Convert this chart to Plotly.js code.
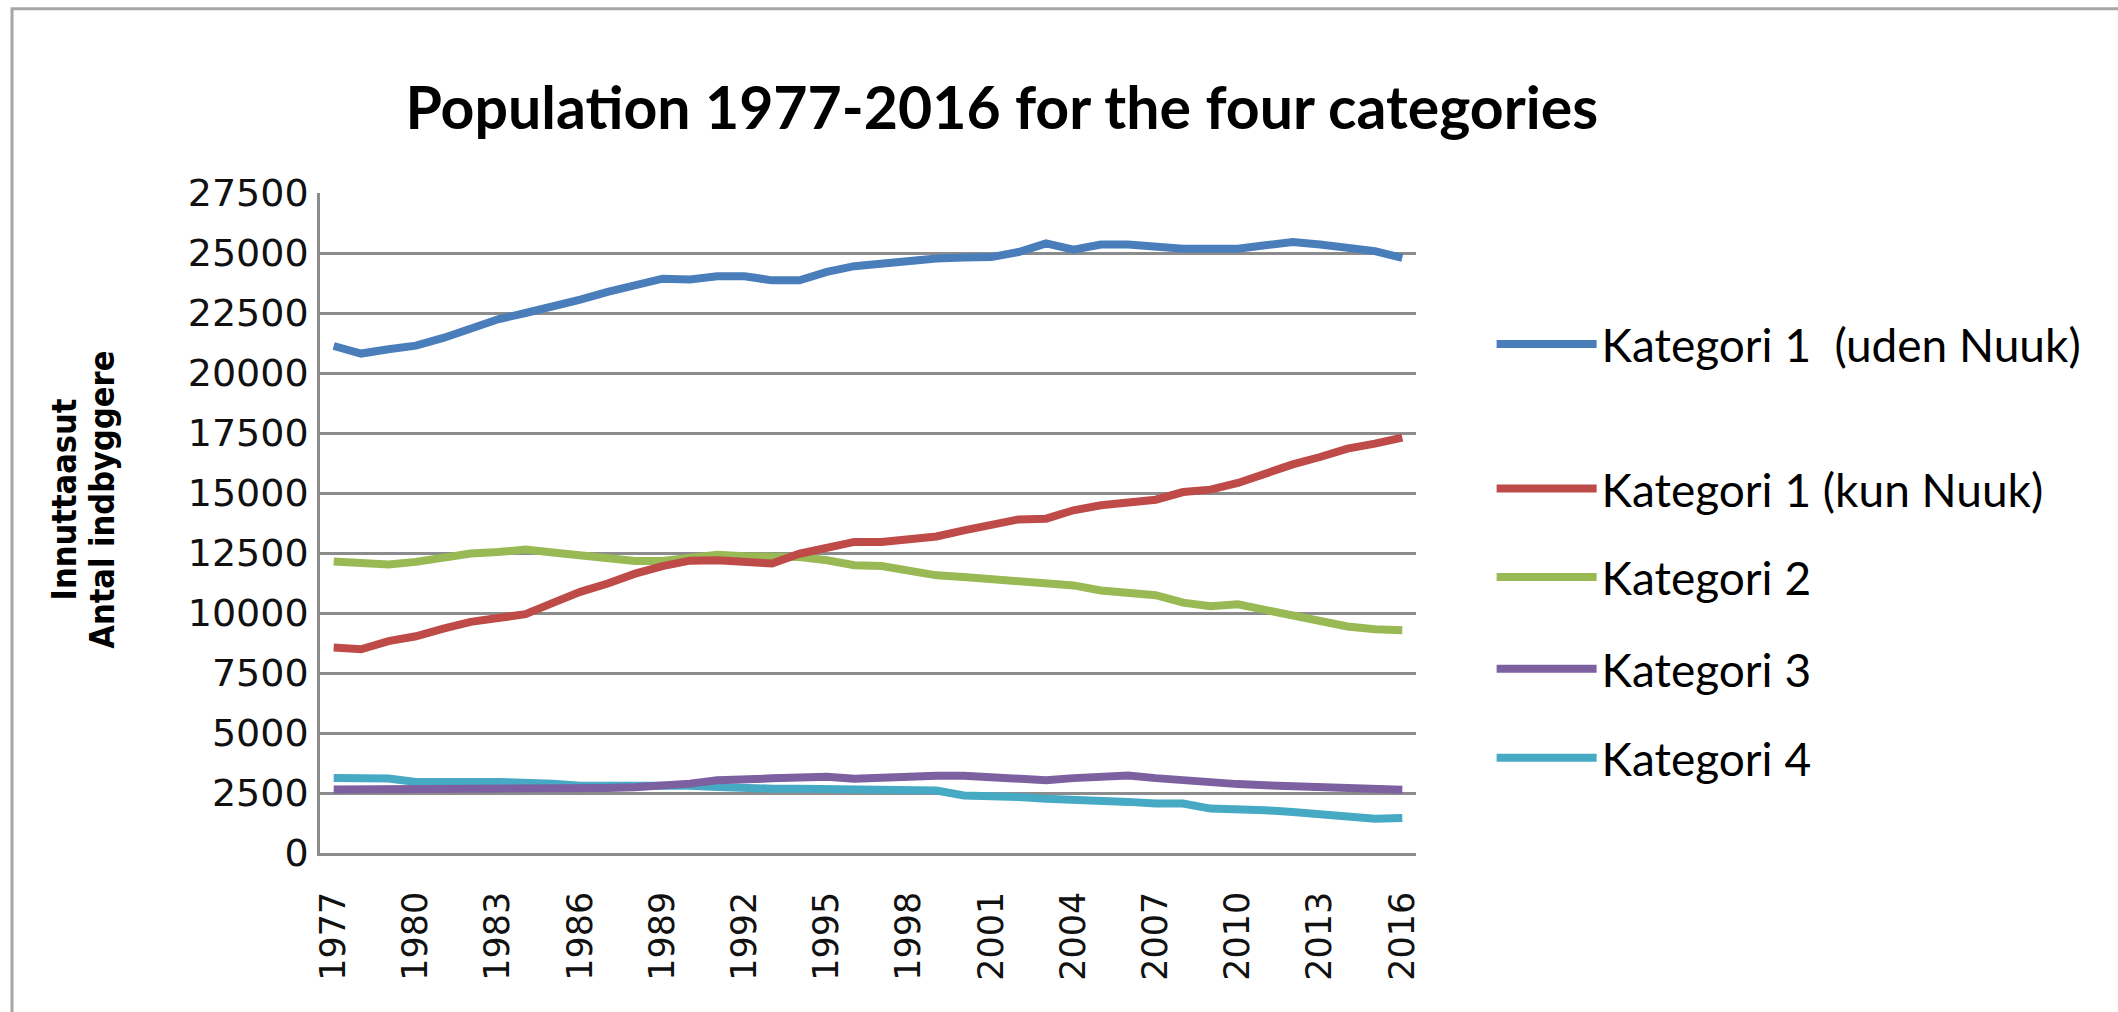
<!DOCTYPE html>
<html><head><meta charset="utf-8">
<script src="https://cdn.plot.ly/plotly-3.0.1.min.js"></script>
<style>html,body{margin:0;padding:0;background:#fff}#chart{width:2118px;height:1012px}</style>
</head><body><div id="chart"></div>
<script>
const years = [1977,1978,1979,1980,1981,1982,1983,1984,1985,1986,1987,1988,1989,1990,1991,1992,1993,1994,1995,1996,1997,1998,1999,2000,2001,2002,2003,2004,2005,2006,2007,2008,2009,2010,2011,2012,2013,2014,2015,2016];
const tickYears = [1977,1980,1983,1986,1989,1992,1995,1998,2001,2004,2007,2010,2013,2016];
const yTicks = [0,2500,5000,7500,10000,12500,15000,17500,20000,22500,25000,27500];
const seriesNames = ["Kategori 1  (uden Nuuk)","Kategori 1 (kun Nuuk)","Kategori 2","Kategori 3","Kategori 4"];
const kat1Uden = [21125,20810,20990,21140,21460,21850,22240,22500,22750,23060,23380,23650,23930,23900,24030,24030,23860,23860,24210,24450,24560,24700,24770,24810,24830,25040,25400,25140,25350,25350,25250,25180,25180,25180,25320,25460,25350,25210,25080,24800];
const kat1Nuuk = [8560,8490,8830,9030,9350,9630,9790,9950,10420,10880,11230,11640,11950,12180,12200,12130,12060,12470,12710,12960,12960,13060,13190,13440,13650,13900,13930,14280,14490,14580,14720,15040,15140,15420,15830,16190,16500,16850,17060,17310];
const kat2 = [12150,12100,12020,12130,12330,12480,12540,12640,12520,12400,12220,12170,12170,12290,12430,12360,12330,12330,12200,11990,11960,11780,11570,11500,11430,11360,11290,11150,10940,10880,10740,10430,10280,10360,10140,9900,9630,9440,9320,9280];
const kat3 = [2650,2650,2640,2640,2650,2650,2660,2660,2670,2690,2710,2740,2800,2890,3030,3040,3110,3150,3180,3090,3150,3220,3220,3220,3150,3090,3030,3120,3150,3230,3120,3030,2890,2870,2820,2790,2750,2750,2700,2640];
const kat4 = [3125,3125,3100,2960,2930,2960,2960,2960,2890,2800,2800,2820,2850,2800,2750,2690,2680,2680,2650,2650,2600,2600,2600,2400,2400,2330,2260,2230,2220,2130,2060,2060,1850,1850,1780,1710,1640,1500,1430,1460];

const seriesValues = [kat1Uden, kat1Nuuk, kat2, kat3, kat4];
const colors = ["#4A7EBB","#BE4B48","#98B954","#7D60A0","#46AAC5"];
const legendIds = ["legend","legend2","legend3","legend4","legend5"];
const legendY = [0.771, 0.552, 0.418, 0.279, 0.144];

const traces = seriesValues.map((vals, i) => ({
  type: "scatter", mode: "lines", x: years, y: vals, name: seriesNames[i],
  line: {color: colors[i], width: 8}, legend: legendIds[i], hoverinfo: "x+y+name"
}));
const order = [0,2,1,4,3];
const data = order.map(i => traces[i]);

const layout = {
  width: 2118, height: 1012,
  margin: {l: 320, r: 702, t: 193, b: 159},
  paper_bgcolor: "#ffffff", plot_bgcolor: "#ffffff",
  showlegend: true,
  title: {text: "Population 1977-2016 for the four categories", x: 0.473, xref: "container", xanchor: "center",
          y: 0.893, yref: "container", yanchor: "middle",
          font: {family: "Lato, 'Open Sans', sans-serif", size: 59, weight: 700, color: "#000"}},
  xaxis: {
    range: [1976.5, 2016.5], tickmode: "array", tickvals: tickYears, ticktext: tickYears.map(String),
    tickangle: -90, showgrid: false, zeroline: false, showline: true, linecolor: "#8c8c8c", linewidth: 2.5,
    ticks: "", ticklabelstandoff: 22,
    tickfont: {family: "'DejaVu Sans', Verdana, sans-serif", size: 35, color: "#111"}
  },
  yaxis: {
    range: [0, 27500], tickmode: "array", tickvals: yTicks, ticktext: yTicks.map(String),
    showgrid: true, gridcolor: "#8c8c8c", gridwidth: 2.5, zeroline: false,
    showline: true, linecolor: "#8c8c8c", linewidth: 2.5, ticks: "", ticklabelstandoff: 1,
    tickfont: {family: "'DejaVu Sans', Verdana, sans-serif", size: 38, color: "#111"}
  },
  annotations: [
    {text: "Innuttaasut", xref: "paper", yref: "paper", x: -0.234, y: 0.535, textangle: -90, showarrow: false,
     xanchor: "center", yanchor: "middle",
     font: {family: "'Liberation Sans Narrow', 'DejaVu Sans Condensed', sans-serif", size: 34, weight: 700, color: "#000"}},
    {text: "Antal indbyggere", xref: "paper", yref: "paper", x: -0.199, y: 0.535, textangle: -90, showarrow: false,
     xanchor: "center", yanchor: "middle",
     font: {family: "'Liberation Sans Narrow', 'DejaVu Sans Condensed', sans-serif", size: 34, weight: 700, color: "#000"}}
  ],
  shapes: [
    {type: "rect", xref: "paper", yref: "paper", x0: -0.281, x1: 1.65, y0: -0.3, y1: 1.279,
     line: {color: "#a6a6a6", width: 3}, fillcolor: "rgba(0,0,0,0)", layer: "below"}
  ]
};
legendIds.forEach((id, i) => {
  layout[id] = {x: 1.069, xanchor: "left", y: legendY[i], yanchor: "middle", bgcolor: "rgba(0,0,0,0)",
    borderwidth: 0, itemwidth: 100, font: {family: "Lato, 'Open Sans', sans-serif", size: 46, color: "#000"}};
});

Plotly.newPlot("chart", data, layout, {displayModeBar: false, responsive: false});
</script>
</body></html>
